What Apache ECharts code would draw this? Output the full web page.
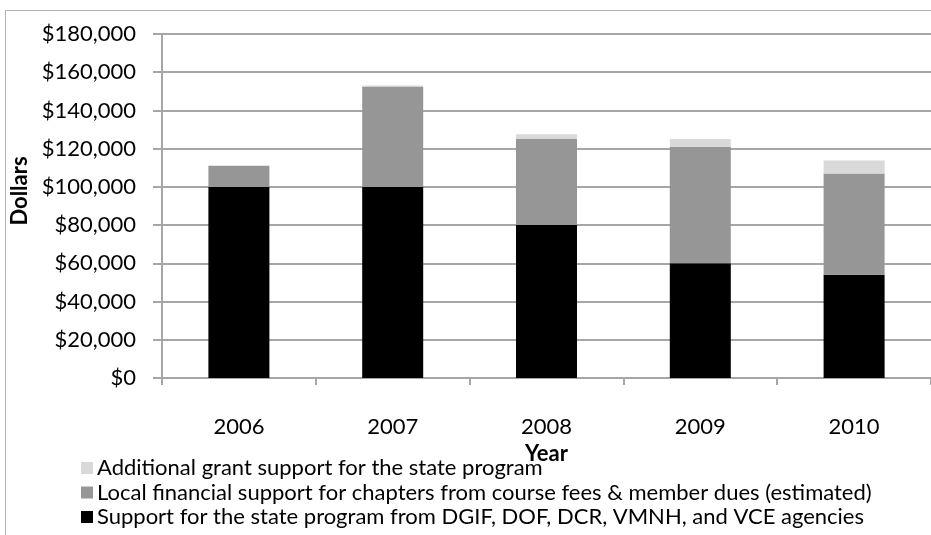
<!DOCTYPE html>
<html>
<head>
<meta charset="utf-8">
<script src="https://cdn.jsdelivr.net/npm/echarts@6/dist/echarts.min.js"></script>
<style>
  html, body { margin: 0; padding: 0; background: #fff; }
  #chart { width: 931px; height: 535px; }
</style>
</head>
<body>
<div id="chart"></div>
<script>
const years = ['2006', '2007', '2008', '2009', '2010'];
const stateSupport = [100000, 100000, 80000, 60000, 54000];
const localSupport = [11000, 52500, 45000, 61000, 53000];
const grantSupport = [0, 600, 2500, 4000, 6800];
const seriesNames = [
  'Support for the state program from DGIF, DOF, DCR, VMNH, and VCE agencies',
  'Local financial support for chapters from course fees & member dues (estimated)',
  'Additional grant support for the state program'
];
const yTicks = { min: 0, max: 180000, interval: 20000 };

const FONT = 'Lato';
const chart = echarts.init(document.getElementById('chart'), null, { renderer: 'canvas' });

function money(v) {
  return '$' + String(v).replace(/\B(?=(\d{3})+(?!\d))/g, ',');
}

chart.setOption({
  animation: false,
  backgroundColor: '#ffffff',
  textStyle: { fontFamily: FONT, color: '#000' },
  graphic: [{
    type: 'rect',
    shape: { x: 5.5, y: 10.5, width: 1000, height: 1000 },
    style: { fill: 'none', stroke: '#b0b0b0', lineWidth: 1 },
    silent: true
  }],
  grid: { left: 162, top: 34, width: 770, height: 344 },
  legend: {
    orient: 'vertical',
    left: 76,
    top: 452,
    height: 200,
    itemWidth: 12,
    itemHeight: 12,
    itemGap: 2.5,
    icon: 'rect',
    data: [seriesNames[2], seriesNames[1], seriesNames[0]],
    textStyle: { fontFamily: FONT, fontSize: 22, lineHeight: 22, color: '#000', padding: [0, 0, 0, -1] }
  },
  xAxis: {
    type: 'category',
    data: years,
    name: 'Year',
    nameLocation: 'middle',
    nameGap: 52,
    nameTextStyle: { fontFamily: FONT, fontSize: 22, fontWeight: 'bold', color: '#000' },
    axisLine: { lineStyle: { color: '#a6a6a6', width: 2 } },
    axisTick: { show: true, length: 7, lineStyle: { color: '#a6a6a6', width: 2 } },
    axisLabel: { margin: 38, fontFamily: FONT, fontSize: 22, color: '#000' }
  },
  yAxis: {
    type: 'value',
    min: yTicks.min,
    max: yTicks.max,
    interval: yTicks.interval,
    name: 'Dollars',
    nameLocation: 'middle',
    nameGap: 117,
    nameRotate: 90,
    nameTextStyle: { fontFamily: FONT, fontSize: 22, fontWeight: 'bold', color: '#000', padding: [0, 0, 0, 30] },
    axisLine: { show: true, lineStyle: { color: '#a6a6a6', width: 2 } },
    axisTick: { show: true, length: 9, lineStyle: { color: '#a6a6a6', width: 2 } },
    splitLine: { show: true, lineStyle: { color: '#a6a6a6', width: 2 } },
    axisLabel: { margin: 26, fontFamily: FONT, fontSize: 22, color: '#000', formatter: money }
  },
  series: [
    { name: seriesNames[0], type: 'bar', stack: 'total', data: stateSupport, barWidth: 61, itemStyle: { color: '#000000' } },
    { name: seriesNames[1], type: 'bar', stack: 'total', data: localSupport, barWidth: 61, itemStyle: { color: '#969696' } },
    { name: seriesNames[2], type: 'bar', stack: 'total', data: grantSupport, barWidth: 61, itemStyle: { color: '#d9d9d9' } }
  ]
});
</script>
</body>
</html>
